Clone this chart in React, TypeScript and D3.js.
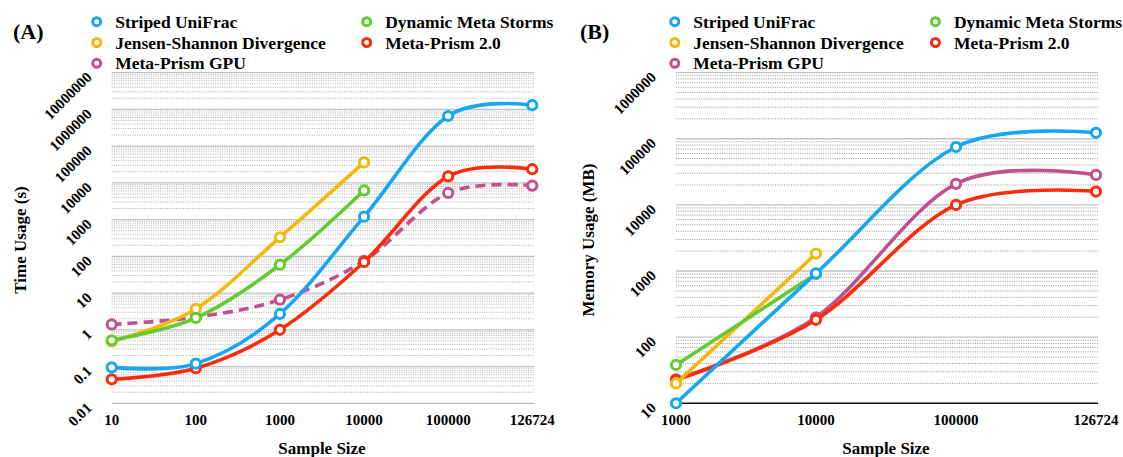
import React from "react";
import * as d3 from "d3";

const FONT = "'Liberation Serif', 'Times New Roman', serif";

// panel A: run time
const timeCats = ["10", "100", "1000", "10000", "100000", "126724"];
const timeTicks = [0.01, 0.1, 1, 10, 100, 1000, 10000, 100000, 1000000, 10000000];
const timeStriped = [0.095, 0.12, 2.7, 1200, 660000, 1300000];
const timeJsd = [0.48, 3.7, 330, 36000];
const timeDms = [0.52, 2.1, 59, 6200];
const timeMp2 = [0.045, 0.09, 1.0, 70, 15000, 23500];
const timeGpu = [1.4, 2.2, 6.6, 75, 5300, 8400];

// panel B: memory
const memCats = ["1000", "10000", "100000", "126724"];
const memTicks = [10, 100, 1000, 10000, 100000, 1000000];
const memStriped = [10, 920, 75000, 123000];
const memJsd = [20, 1830];
const memDms = [38, 900];
const memMp2 = [22.5, 183, 10000, 15900];
const memGpu = [23, 200, 20800, 28400];

const names = {
  striped: "Striped UniFrac",
  dms: "Dynamic Meta Storms",
  jsd: "Jensen-Shannon Divergence",
  mp2: "Meta-Prism 2.0",
  gpu: "Meta-Prism GPU",
};
const colors = {
  striped: "#16a6f2",
  dms: "#62cb30",
  jsd: "#f4b80c",
  mp2: "#fc2b0a",
  gpu: "#c2508f",
};
// legend slots: [key, col, row]
const legendSlots = [
  ["striped", 0, 0],
  ["dms", 1, 0],
  ["jsd", 0, 1],
  ["mp2", 1, 1],
  ["gpu", 0, 2],
];
const drawOrder = ["gpu", "mp2", "jsd", "dms", "striped"];

function fmt(v) {
  return v < 1 ? String(v) : d3.format("d")(v);
}

function Panel({ tag, tagX, cats, ticks, data, dashed, x0, x1, yTitle, yTitleX, legendX, axisLine, minorColor }) {
  const yTop = 72.6;
  const yBottom = 403.3;
  const x = d3.scalePoint().domain(cats).range([x0, x1]).padding(0);
  const y = d3.scaleLog().domain([ticks[0], ticks[ticks.length - 1]]).range([yBottom, yTop]);
  const line = d3
    .line()
    .x((d) => x(d[0]))
    .y((d) => y(d[1]))
    .curve(d3.curveCardinal.tension(0));

  const minor = [];
  ticks.slice(0, -1).forEach((t) => {
    for (let k = 2; k <= 9; k++) minor.push(t * k);
  });

  return (
    <g>
      <text x={tagX} y={39} fontSize={22} fontWeight="bold" fontFamily={FONT}>
        {tag}
      </text>

      {legendSlots.map(([key, col, row]) => {
        const lx = legendX[col];
        const ly = 21.7 + row * 20.8;
        return (
          <g key={key}>
            <circle cx={lx} cy={ly} r={4} fill="white" stroke={colors[key]} strokeWidth={3} />
            <text x={lx + 18.5} y={ly + 6} fontSize={17.5} fontWeight="bold" fontFamily={FONT}>
              {names[key]}
            </text>
          </g>
        );
      })}

      {minor.map((v) => (
        <line
          key={"m" + v}
          x1={x0}
          x2={x1 + 2}
          y1={y(v)}
          y2={y(v)}
          stroke={minorColor}
          strokeWidth={0.9}
          strokeDasharray="1 1.3"
        />
      ))}
      {ticks.map((v, i) =>
        axisLine && i === 0 ? null : (
          <line key={"g" + v} x1={x0} x2={x1 + 2} y1={y(v)} y2={y(v)} stroke="#c2c2c2" strokeWidth={1.3} />
        )
      )}
      {axisLine && <line x1={x0} x2={x1 + 2} y1={yBottom} y2={yBottom} stroke="#111" strokeWidth={1.5} />}

      {ticks.map((v) => {
        const tx = x0 - 19;
        const ty = y(v) + 5.5;
        return (
          <text
            key={"t" + v}
            x={tx}
            y={ty}
            transform={`rotate(-45 ${tx} ${ty})`}
            textAnchor="end"
            fontSize={15}
            fontWeight="bold"
            fontFamily={FONT}
          >
            {fmt(v)}
          </text>
        );
      })}
      {cats.map((c) => (
        <text key={"c" + c} x={x(c)} y={425} textAnchor="middle" fontSize={15} fontWeight="bold" fontFamily={FONT}>
          {c}
        </text>
      ))}
      <text x={(x0 + x1) / 2} y={454} textAnchor="middle" fontSize={17} fontWeight="bold" fontFamily={FONT}>
        Sample Size
      </text>
      <text
        x={yTitleX}
        y={240}
        transform={`rotate(-90 ${yTitleX} 240)`}
        textAnchor="middle"
        dy="0.35em"
        fontSize={17}
        fontWeight="bold"
        fontFamily={FONT}
      >
        {yTitle}
      </text>

      {drawOrder.map((key) => {
        const pts = data[key].map((v, i) => [cats[i], v]);
        return (
          <g key={key}>
            <path
              d={line(pts)}
              fill="none"
              stroke={colors[key]}
              strokeWidth={3.6}
              strokeDasharray={dashed.includes(key) ? "10 6" : null}
            />
            {pts.map((p, i) => (
              <circle key={i} cx={x(p[0])} cy={y(p[1])} r={4.6} fill="white" stroke={colors[key]} strokeWidth={3} />
            ))}
          </g>
        );
      })}
    </g>
  );
}

export default function App() {
  return (
    <svg width={1123} height={457} style={{ position: "absolute", left: 0, top: 0, background: "white" }}>
      <Panel
        tag="(A)"
        tagX={13}
        cats={timeCats}
        ticks={timeTicks}
        data={{ striped: timeStriped, jsd: timeJsd, dms: timeDms, mp2: timeMp2, gpu: timeGpu }}
        dashed={["gpu"]}
        x0={111.7}
        x1={532.3}
        yTitle="Time Usage (s)"
        yTitleX={20}
        legendX={[96.7, 366.7]}
        axisLine={false}
        minorColor="#a8a8a8"
      />
      <Panel
        tag="(B)"
        tagX={580}
        cats={memCats}
        ticks={memTicks}
        data={{ striped: memStriped, jsd: memJsd, dms: memDms, mp2: memMp2, gpu: memGpu }}
        dashed={[]}
        x0={676}
        x1={1096}
        yTitle="Memory Usage (MB)"
        yTitleX={588}
        legendX={[674.8, 935.4]}
        axisLine={true}
        minorColor="#8a8a8a"
      />
    </svg>
  );
}
